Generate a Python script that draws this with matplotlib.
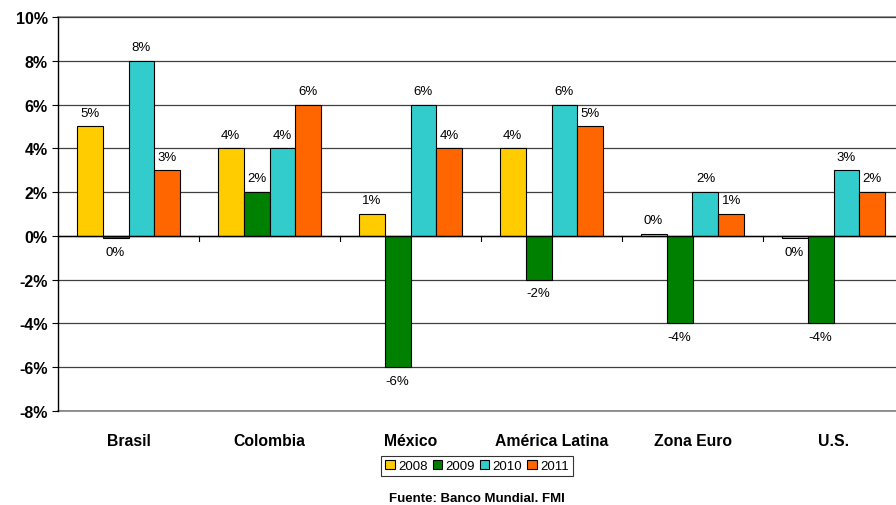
import matplotlib.pyplot as plt
import numpy as np

plt.rcParams['font.family'] = ['Liberation Sans', 'DejaVu Sans']

paises = ["Brasil", "Colombia", "México", "América Latina", "Zona Euro", "U.S."]
anios = ["2008", "2009", "2010", "2011"]
v2008 = [5.0, 4.0, 1.0, 4.0, 0.1, -0.1]
v2009 = [-0.1, 2.0, -6.0, -2.0, -4.0, -4.0]
v2010 = [8.0, 4.0, 6.0, 6.0, 2.0, 3.0]
v2011 = [3.0, 6.0, 4.0, 5.0, 1.0, 2.0]
series = [v2008, v2009, v2010, v2011]
colores = ["#FFCC00", "#008000", "#33CCCC", "#FF6600"]

fig = plt.figure(figsize=(8.96, 5.06), dpi=100)
ax = fig.add_axes([58/896, 1 - 412/506, (904 - 58)/896, (412 - 18)/506])

x = np.arange(len(paises))
w = 0.184
for i, (vals, c) in enumerate(zip(series, colores)):
    pos = x + (i - 1.5) * w
    ax.bar(pos, vals, w, color=c, edgecolor="black", linewidth=0.8, label=anios[i], zorder=3)
    for p, v in zip(pos, vals):
        txt = f"{round(v):.0f}%"
        if v >= 0:
            ax.text(p, v + 0.35, txt, ha="center", va="bottom", fontsize=9.5)
        else:
            ax.text(p, v - 0.35, txt, ha="center", va="top", fontsize=9.5)

ax.set_xlim(-0.5, len(paises) - 0.5)
ax.set_ylim(-8, 10)
ax.set_yticks(np.arange(-8, 11, 2))
ax.set_yticklabels([f"{t}%" for t in range(-8, 11, 2)], fontsize=11.5, fontweight="bold")
ax.yaxis.grid(True, color="#404040", linewidth=0.9, zorder=0)
for yl in (-8, 10):
    ax.axhline(yl, color="#808080", linewidth=1.2, clip_on=False, zorder=1)
ax.tick_params(axis="y", length=4, width=0.8)
for s in ["top", "right", "bottom"]:
    ax.spines[s].set_visible(False)
ax.spines["left"].set_linewidth(1.0)
ax.axhline(0, color="black", linewidth=1.0, zorder=4)

# categorias bajo el grafico, marcas entre grupos sobre la linea 0
ax.set_xticks(x)
ax.set_xticklabels(paises, fontsize=11.3, fontweight="bold")
ax.tick_params(axis="x", length=0, pad=16)
for b in x[:-1] + 0.5:
    ax.plot([b, b], [0, -0.25], color="black", linewidth=0.8, zorder=4)

leg = fig.legend(loc="center", bbox_to_anchor=(477/896, 1 - 467/506), ncol=4,
                 fontsize=9.5, frameon=True, fancybox=False, edgecolor="black",
                 handlelength=0.7, handleheight=0.7, handletextpad=0.25,
                 columnspacing=0.4, borderpad=0.3, borderaxespad=0)
leg.get_frame().set_linewidth(0.8)

fig.text(477/896, 1 - 499/506, "Fuente: Banco Mundial. FMI", ha="center", va="center",
         fontsize=9.5, fontweight="bold")

fig.savefig("out.png", dpi=100)
